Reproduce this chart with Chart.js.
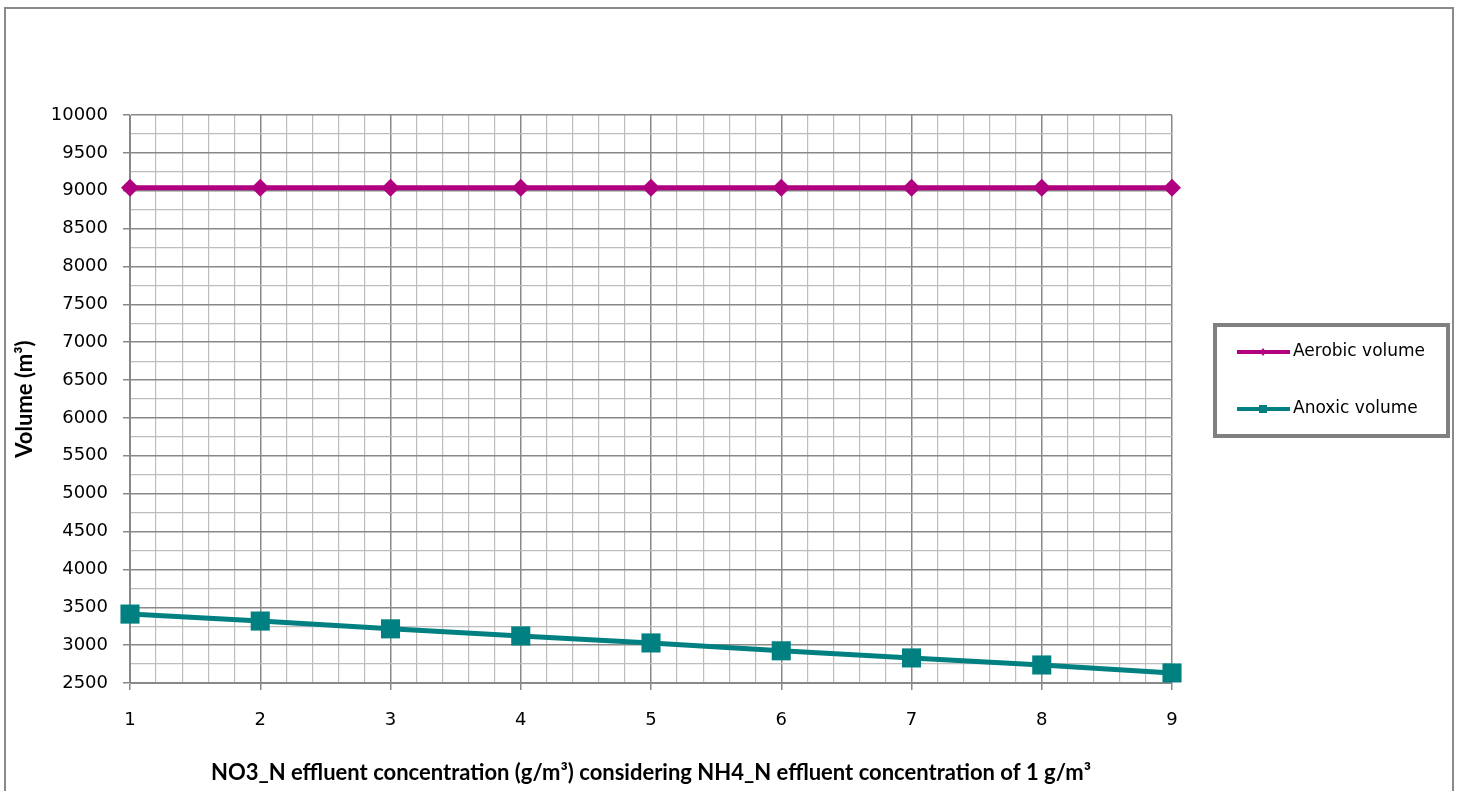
<!DOCTYPE html>
<html>
<head>
<meta charset="utf-8">
<script src="https://cdn.jsdelivr.net/npm/chart.js@4.4.0/dist/chart.umd.min.js"></script>
<style>
  html, body { margin: 0; padding: 0; background: #fff; }
  #wrap { width: 1461px; height: 791px; }
</style>
</head>
<body>
<div id="wrap"><canvas id="c" width="1461" height="791"></canvas></div>
<script>
// data
const concentrations = [1, 2, 3, 4, 5, 6, 7, 8, 9];
const aerobicVolume = [9040, 9040, 9040, 9040, 9040, 9040, 9040, 9040, 9040];
const anoxicVolume = [3410, 3318, 3215, 3121, 3029, 2925, 2831, 2738, 2633];
const seriesNames = ['Aerobic volume', 'Anoxic volume'];
const seriesColors = ['#b0007f', '#008080'];

const isInt = v => Math.abs(v - Math.round(v)) < 1e-6;
const isMajorY = v => Math.abs(v / 500 - Math.round(v / 500)) < 1e-6;

const frame = {
  id: 'frame',
  beforeDraw(chart) {
    const ctx = chart.ctx;
    ctx.save();
    ctx.fillStyle = '#fff';
    ctx.fillRect(0, 0, chart.width, chart.height);
    ctx.strokeStyle = '#8a8a8a';
    ctx.lineWidth = 2;
    ctx.strokeRect(5, 8, 1448, 810);
    ctx.restore();
  }
};

// legend box at the right, drawn from the datasets
const sideLegend = {
  id: 'sideLegend',
  afterDraw(chart) {
    const ctx = chart.ctx;
    ctx.save();
    ctx.strokeStyle = '#808080';
    ctx.lineWidth = 4;
    ctx.strokeRect(1215, 325, 233, 111);
    chart.data.datasets.forEach((ds, i) => {
      const y = 352 + i * 57;
      ctx.strokeStyle = ds.borderColor;
      ctx.lineWidth = 4;
      ctx.beginPath();
      ctx.moveTo(1237, y);
      ctx.lineTo(1290, y);
      ctx.stroke();
      ctx.fillStyle = ds.borderColor;
      if (ds.pointStyle === 'rect') {
        ctx.fillRect(1259, y - 4, 8, 8);
      } else {
        ctx.beginPath();
        ctx.moveTo(1263, y - 4);
        ctx.lineTo(1266, y);
        ctx.lineTo(1263, y + 4);
        ctx.lineTo(1260, y);
        ctx.closePath();
        ctx.fill();
      }
      ctx.fillStyle = '#000';
      ctx.font = '17px "DejaVu Sans"';
      ctx.textBaseline = 'middle';
      ctx.fillText(ds.label, 1293, y);
    });
    ctx.restore();
  }
};

new Chart(document.getElementById('c'), {
  type: 'line',
  data: {
    datasets: [
      {
        label: seriesNames[0],
        data: concentrations.map((x, i) => ({ x: x, y: aerobicVolume[i] })),
        borderColor: seriesColors[0],
        backgroundColor: seriesColors[0],
        borderWidth: 5,
        pointStyle: 'rectRot',
        pointRadius: 9,
        pointBorderWidth: 0,
        tension: 0,
        clip: false
      },
      {
        label: seriesNames[1],
        data: concentrations.map((x, i) => ({ x: x, y: anoxicVolume[i] })),
        borderColor: seriesColors[1],
        backgroundColor: seriesColors[1],
        borderWidth: 5,
        pointStyle: 'rect',
        pointRadius: 13.5,
        pointBorderWidth: 0,
        tension: 0,
        clip: false
      }
    ]
  },
  options: {
    responsive: false,
    animation: false,
    layout: { padding: { left: 0, right: 289, top: 115, bottom: 0 } },
    plugins: {
      legend: { display: false },
      tooltip: { enabled: false }
    },
    scales: {
      x: {
        type: 'linear',
        min: 1,
        max: 9,
        afterFit: s => { s.height = 108; },
        border: { color: '#888', width: 1 },
        grid: {
          color: c => isInt(c.tick.value) ? '#888' : '#bdbdbd',
          lineWidth: c => isInt(c.tick.value) ? 1.5 : 1.2,
          tickColor: c => isInt(c.tick.value) ? '#888' : 'rgba(0,0,0,0)',
          tickLength: 7
        },
        ticks: {
          stepSize: 0.2,
          autoSkip: false,
          maxRotation: 0,
          padding: 20,
          color: '#000',
          font: { family: 'DejaVu Sans', size: 18 },
          callback: v => isInt(v) ? String(Math.round(v)) : ''
        },
        title: {
          display: true,
          text: 'NO3_N effluent concentration (g/m³) considering NH4_N effluent concentration of 1 g/m³',
          color: '#000',
          font: { family: 'Lato', size: 22, weight: 'bold' },
          padding: { top: 0, bottom: 5 }
        }
      },
      y: {
        min: 2500,
        max: 10000,
        afterFit: s => { s.width = 130; },
        border: { color: '#888', width: 1 },
        grid: {
          color: c => isMajorY(c.tick.value) ? '#888' : '#bdbdbd',
          lineWidth: c => isMajorY(c.tick.value) ? 1.5 : 1.2,
          tickColor: c => isMajorY(c.tick.value) ? '#888' : 'rgba(0,0,0,0)',
          tickLength: 7
        },
        ticks: {
          stepSize: 250,
          autoSkip: false,
          padding: 15,
          color: '#000',
          font: { family: 'DejaVu Sans', size: 18 },
          callback: v => isMajorY(v) ? String(v) : ''
        },
        title: {
          display: true,
          text: 'Volume (m³)',
          color: '#000',
          font: { family: 'Lato', size: 22, weight: 'bold' },
          padding: { top: 12, bottom: 0 }
        }
      }
    }
  },
  plugins: [frame, sideLegend]
});
</script>
</body>
</html>
